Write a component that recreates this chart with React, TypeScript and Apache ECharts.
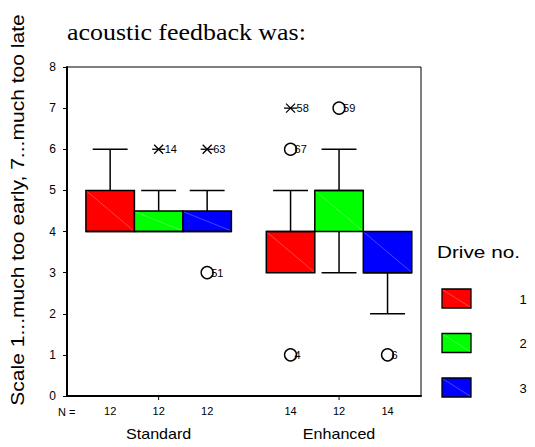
import React, { useEffect, useRef } from "react";
import * as echarts from "echarts";

// ---- data ----
const groups = ["Standard", "Enhanced"];
const drives = ["1", "2", "3"];
const driveColors = ["#ff0000", "#00ff00", "#0000ff"];
const nStandard = [12, 12, 12];
const nEnhanced = [14, 12, 14];
// per drive: [lower whisker, Q1, median, Q3, upper whisker]
const standardStats = [
  [4, 4, 4, 5, 6],
  [4, 4, 4, 4.5, 5],
  [4, 4, 4, 4.5, 5],
];
const enhancedStats = [
  [3, 3, 4, 4, 5],
  [3, 4, 5, 5, 6],
  [2, 3, 3, 4, 4],
];
// outliers
const outlierGroup = [0, 0, 0, 1, 1, 1, 1, 1];
const outlierDrive = [1, 2, 2, 0, 0, 0, 1, 2];
const outlierValue = [6, 6, 3, 7, 6, 1, 7, 1];
const outlierCase = ["14", "63", "51", "58", "67", "4", "59", "6"];
const outlierExtreme = [1, 1, 0, 1, 0, 0, 0, 0];
const yTickMin = 0;
const yTickMax = 8;

const titleText = "acoustic feedback was:";
const yTitle = "Scale 1...much too early, 7...much too late";
const legendTitle = "Drive no.";

// ---- layout helpers ----
const X_MAX = 7.3;
const groupCenter = (g: number) => 1.89 + g * 3.72;
const boxX = (g: number, d: number) => groupCenter(g) + (d - 1);
const SANS = "Liberation Sans, Arial, Helvetica, sans-serif";

export default function App() {
  const ref = useRef<HTMLDivElement>(null);
  useEffect(() => {
    if (!ref.current) return;
    const chart = echarts.init(ref.current, null, { renderer: "svg" });

    const statsByGroup = [standardStats, enhancedStats];
    const nByGroup = [nStandard, nEnhanced];
    const boxData: number[][] = [];
    statsByGroup.forEach((stats, g) => {
      stats.forEach((s, d) => {
        boxData.push([boxX(g, d), s[0], s[1], s[2], s[3], s[4], d, nByGroup[g][d]]);
      });
    });
    const outlierData = outlierValue.map((v, i) => [
      boxX(outlierGroup[i], outlierDrive[i]),
      v,
      outlierExtreme[i],
    ]);
    const groupData = groups.map((_, g) => [groupCenter(g), 0]);

    const lineSt = { stroke: "#000", lineWidth: 1.5 };

    const renderBox = (params: any, api: any) => {
      const x = api.value(0);
      const lo = api.value(1);
      const q1 = api.value(2);
      const med = api.value(3);
      const q3 = api.value(4);
      const hi = api.value(5);
      const d = api.value(6);
      const n = api.value(7);
      const w = api.size([1, 0])[0];
      const [cx, yQ1] = api.coord([x, q1]);
      const yQ3 = api.coord([x, q3])[1];
      const yLo = api.coord([x, lo])[1];
      const yHi = api.coord([x, hi])[1];
      const yMed = api.coord([x, med])[1];
      const yBase = api.coord([x, 0])[1];
      const left = cx - w / 2;
      const cap = w * 0.36;
      const children: any[] = [];
      if (hi > q3) {
        children.push({ type: "line", shape: { x1: cx, y1: yQ3, x2: cx, y2: yHi }, style: lineSt });
        children.push({ type: "line", shape: { x1: cx - cap, y1: yHi, x2: cx + cap, y2: yHi }, style: lineSt });
      }
      if (lo < q1) {
        children.push({ type: "line", shape: { x1: cx, y1: yQ1, x2: cx, y2: yLo }, style: lineSt });
        children.push({ type: "line", shape: { x1: cx - cap, y1: yLo, x2: cx + cap, y2: yLo }, style: lineSt });
      }
      children.push({
        type: "rect",
        shape: { x: left, y: yQ3, width: w, height: yQ1 - yQ3 },
        style: { fill: driveColors[d], stroke: "#000", lineWidth: 1.5 },
      });
      children.push({
        type: "line",
        shape: { x1: left + 1, y1: yQ3 + 1, x2: left + w - 1, y2: yQ1 - 1 },
        style: { stroke: "rgba(255,255,255,0.45)", lineWidth: 0.6 },
      });
      children.push({ type: "line", shape: { x1: left, y1: yMed, x2: left + w, y2: yMed }, style: lineSt });
      children.push({
        type: "text",
        x: cx,
        y: yBase + 15,
        style: { text: String(n), align: "center", verticalAlign: "middle", fontSize: 11, fill: "#000", fontFamily: SANS },
      });
      return { type: "group", children };
    };

    const renderOutlier = (params: any, api: any) => {
      const i = params.dataIndex;
      const [cx, cy] = api.coord([api.value(0), api.value(1)]);
      const extreme = api.value(2) === 1;
      const children: any[] = [];
      if (extreme) {
        const s = 4.5;
        children.push({ type: "line", shape: { x1: cx - s, y1: cy - s, x2: cx + s, y2: cy + s }, style: { stroke: "#000", lineWidth: 1.3 } });
        children.push({ type: "line", shape: { x1: cx - s, y1: cy + s, x2: cx + s, y2: cy - s }, style: { stroke: "#000", lineWidth: 1.3 } });
        children.push({ type: "line", shape: { x1: cx - 6.5, y1: cy, x2: cx + 6.5, y2: cy }, style: { stroke: "#000", lineWidth: 1.3 } });
      } else {
        children.push({ type: "circle", shape: { cx, cy, r: 6 }, style: { fill: "none", stroke: "#000", lineWidth: 1.4 } });
      }
      children.push({
        type: "text",
        x: cx + (extreme ? 6 : 4),
        y: cy,
        style: { text: outlierCase[i], align: "left", verticalAlign: "middle", fontSize: 11, fill: "#000", fontFamily: SANS },
      });
      return { type: "group", children };
    };

    const renderGroup = (params: any, api: any) => {
      const g = params.dataIndex;
      const [cx, yBase] = api.coord([api.value(0), 0]);
      return {
        type: "group",
        children: [
          { type: "line", shape: { x1: cx, y1: yBase, x2: cx, y2: yBase + 4 }, style: { stroke: "#000", lineWidth: 1 } },
          {
            type: "text",
            x: cx,
            y: yBase + 38,
            scaleX: 1.15,
            style: { text: groups[g], align: "center", verticalAlign: "middle", fontSize: 14, fill: "#000", fontFamily: SANS },
          },
        ],
      };
    };

    const legendEls: any[] = [
      {
        type: "text",
        x: 437,
        y: 252,
        scaleX: 1.22,
        style: { text: legendTitle, align: "left", verticalAlign: "middle", fontSize: 17, fill: "#000", fontFamily: SANS },
      },
    ];
    drives.forEach((lab, d) => {
      const y = 289 + d * 44.5;
      legendEls.push({
        type: "rect",
        shape: { x: 442, y, width: 29, height: 19 },
        style: { fill: driveColors[d], stroke: "#000", lineWidth: 1.3 },
      });
      legendEls.push({
        type: "line",
        shape: { x1: 443, y1: y + 1, x2: 470, y2: y + 18 },
        style: { stroke: "rgba(255,255,255,0.45)", lineWidth: 0.6 },
      });
      legendEls.push({
        type: "text",
        x: 523,
        y: y + 10,
        style: { text: lab, align: "center", verticalAlign: "middle", fontSize: 13, fill: "#000", fontFamily: SANS },
      });
    });

    chart.setOption({
      animation: false,
      backgroundColor: "#fff",
      color: ["#000"],
      grid: { left: 67, right: 114, top: 67, bottom: 51, show: true, borderColor: "#000", borderWidth: 1, backgroundColor: "transparent" },
      xAxis: {
        type: "value",
        min: 0,
        max: X_MAX,
        axisLine: { show: true, onZero: false, lineStyle: { color: "#000", width: 2 } },
        axisTick: { show: false },
        axisLabel: { show: false },
        splitLine: { show: false },
      },
      yAxis: {
        type: "value",
        min: yTickMin,
        max: yTickMax,
        interval: 1,
        axisLine: { show: true, lineStyle: { color: "#000", width: 2 } },
        axisTick: { show: true, length: 4, lineStyle: { color: "#000", width: 1 } },
        axisLabel: { color: "#000", fontSize: 12, margin: 11, fontFamily: SANS },
        splitLine: { show: false },
      },
      graphic: [
        {
          type: "text",
          x: 67,
          y: 32,
          scaleX: 1.08,
          style: { text: titleText, align: "left", verticalAlign: "middle", fontSize: 24, fill: "#000", fontFamily: "Liberation Serif, Times New Roman, serif" },
        },
        {
          type: "text",
          x: 18,
          y: 210,
          rotation: Math.PI / 2,
          scaleX: 1.17,
          style: { text: yTitle, align: "center", verticalAlign: "middle", fontSize: 18, fill: "#000", fontFamily: SANS },
        },
        {
          type: "text",
          x: 58,
          y: 412,
          style: { text: "N =", align: "left", verticalAlign: "middle", fontSize: 11, fill: "#000", fontFamily: SANS },
        },
        ...legendEls,
      ],
      series: [
        { type: "custom", name: "boxes", renderItem: renderBox, data: boxData, encode: { x: 0, y: [1, 2, 3, 4, 5] }, itemStyle: { color: "#000" }, z: 3 },
        { type: "custom", name: "outliers", renderItem: renderOutlier, data: outlierData, encode: { x: 0, y: 1 }, itemStyle: { color: "#000" }, z: 4 },
        { type: "custom", name: "groups", renderItem: renderGroup, data: groupData, encode: { x: 0, y: 1 }, itemStyle: { color: "#000" }, z: 4 },
      ],
    });
    return () => chart.dispose();
  }, []);
  return <div ref={ref} style={{ position: "fixed", left: 0, top: 0, width: 535, height: 447 }} />;
}
